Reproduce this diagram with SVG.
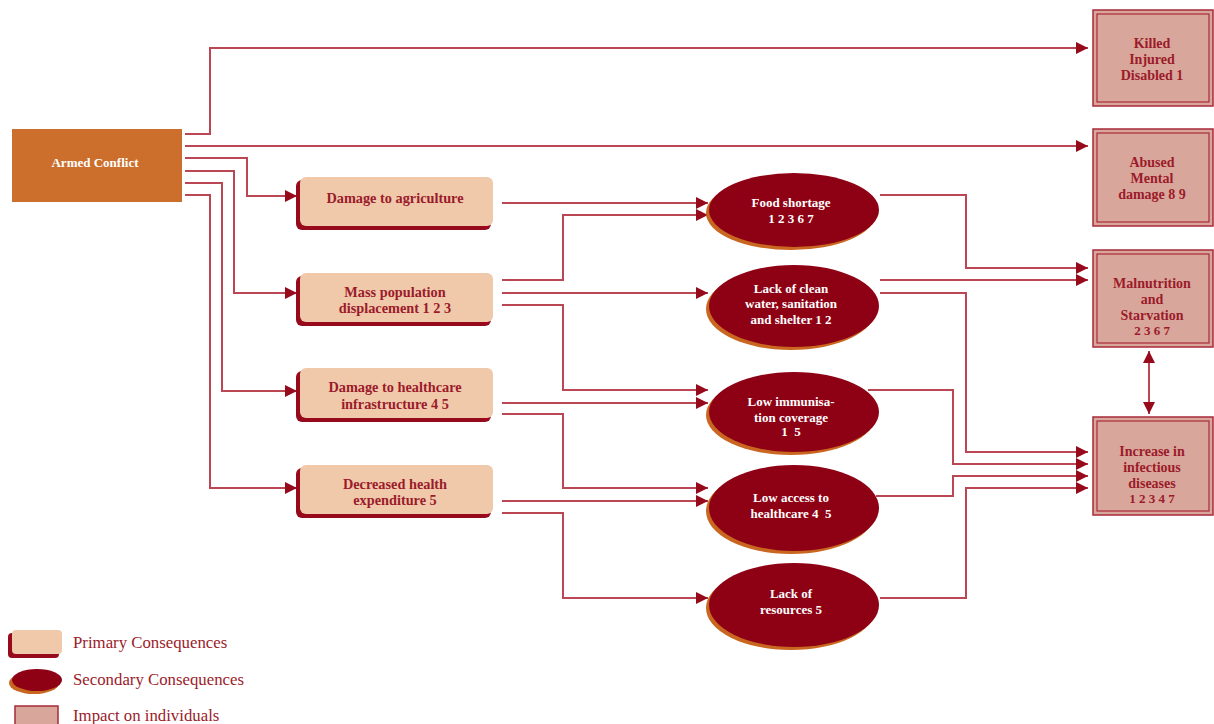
<svg xmlns="http://www.w3.org/2000/svg" width="1214" height="724" viewBox="0 0 1214 724">
<defs>
<marker id="ah" markerUnits="userSpaceOnUse" markerWidth="14" markerHeight="12" refX="12" refY="6" orient="auto">
<path d="M0,0 L12,6 L0,12 Z" fill="#960a1c"/>
</marker>
<marker id="ahs" markerUnits="userSpaceOnUse" markerWidth="14" markerHeight="12" refX="12" refY="6" orient="auto-start-reverse">
<path d="M0,0 L12,6 L0,12 Z" fill="#960a1c"/>
</marker>
<style>
.ln{fill:none;stroke:#bb4654;stroke-width:2}
.t{font-family:"Liberation Serif","Times New Roman",serif;font-weight:bold;font-size:13px;text-anchor:middle}
.p{font-size:14.3px}
.i{font-size:14px}
.dr{fill:#9b1b2a}
.wh{fill:#ffffff}
.pbox{fill:#f0c8aa}
.pshadow{fill:#960a1c}
.ell{fill:#8e0014}
.eshadow{fill:#c9661f}
.imp{fill:#d9a69b;stroke:#a82a3a;stroke-width:1.5}
.impin{fill:none;stroke:#a82a3a;stroke-width:1.2}
.leg{font-family:"Liberation Serif","Times New Roman",serif;font-size:16.8px;fill:#9b1b2a}
</style>
</defs>
<rect width="1214" height="724" fill="#ffffff"/>

<g id="connectors">
<path class="ln" d="M185,134 H210 V48 H1088" marker-end="url(#ah)"/>
<path class="ln" d="M185,146 H1088" marker-end="url(#ah)"/>
<path class="ln" d="M185,158 H247 V196 H297" marker-end="url(#ah)"/>
<path class="ln" d="M185,171 H234 V293 H297" marker-end="url(#ah)"/>
<path class="ln" d="M185,183 H222 V391 H297" marker-end="url(#ah)"/>
<path class="ln" d="M185,195 H210 V488 H297" marker-end="url(#ah)"/>

<path class="ln" d="M502,203 H708" marker-end="url(#ah)"/>
<path class="ln" d="M502,280 H563 V215 H708" marker-end="url(#ah)"/>
<path class="ln" d="M502,293 H708" marker-end="url(#ah)"/>
<path class="ln" d="M502,305 H563 V390 H708" marker-end="url(#ah)"/>
<path class="ln" d="M502,403 H708" marker-end="url(#ah)"/>
<path class="ln" d="M502,414 H563 V488 H708" marker-end="url(#ah)"/>
<path class="ln" d="M502,501 H708" marker-end="url(#ah)"/>
<path class="ln" d="M502,513 H563 V598 H708" marker-end="url(#ah)"/>

<path class="ln" d="M880,195 H966 V268 H1088" marker-end="url(#ah)"/>
<path class="ln" d="M880,280 H1088" marker-end="url(#ah)"/>
<path class="ln" d="M880,293 H966 V452 H1088" marker-end="url(#ah)"/>
<path class="ln" d="M868,390 H953 V464 H1088" marker-end="url(#ah)"/>
<path class="ln" d="M876,496 H953 V476 H1088" marker-end="url(#ah)"/>
<path class="ln" d="M880,598 H966 V488 H1088" marker-end="url(#ah)"/>

<path class="ln" d="M1149,351 V414" marker-start="url(#ahs)" marker-end="url(#ah)"/>
</g>

<g id="armed-conflict">
<rect x="12" y="129" width="170" height="73" fill="#cc6e2c"/>
<text class="t wh" x="95" y="167" font-size="13.6">Armed Conflict</text>
</g>

<g id="damage-agriculture">
<rect class="pshadow" x="296" y="180" width="195" height="50" rx="6"/>
<rect class="pbox" x="300" y="177" width="193" height="49" rx="6"/>
<text class="t p dr" x="395" y="203">Damage to agriculture</text>
</g>
<g id="mass-population">
<rect class="pshadow" x="296" y="276" width="195" height="50" rx="6"/>
<rect class="pbox" x="300" y="273" width="193" height="49" rx="6"/>
<text class="t p dr" x="395" y="297">Mass population</text>
<text class="t p dr" x="395" y="313">displacement 1 2 3</text>
</g>
<g id="damage-healthcare">
<rect class="pshadow" x="296" y="371" width="195" height="51" rx="6"/>
<rect class="pbox" x="300" y="368" width="193" height="50" rx="6"/>
<text class="t p dr" x="395" y="392">Damage to healthcare</text>
<text class="t p dr" x="395" y="409">infrastructure 4 5</text>
</g>
<g id="decreased-health">
<rect class="pshadow" x="296" y="468" width="195" height="50" rx="6"/>
<rect class="pbox" x="300" y="465" width="193" height="49" rx="6"/>
<text class="t p dr" x="395" y="489">Decreased health</text>
<text class="t p dr" x="395" y="505">expenditure 5</text>
</g>

<g id="food-shortage">
<ellipse class="eshadow" cx="791" cy="213" rx="85" ry="37"/>
<ellipse class="ell" cx="794" cy="210" rx="85" ry="37"/>
<text class="t wh" x="791" y="207">Food shortage</text>
<text class="t wh" x="791" y="223">1 2 3 6 7</text>
</g>
<g id="lack-water">
<ellipse class="eshadow" cx="791" cy="309" rx="85" ry="41"/>
<ellipse class="ell" cx="794" cy="306" rx="85" ry="41"/>
<text class="t wh" x="791" y="293">Lack of clean</text>
<text class="t wh" x="791" y="308">water, sanitation</text>
<text class="t wh" x="791" y="324">and shelter 1 2</text>
</g>
<g id="low-immunisation">
<ellipse class="eshadow" cx="791" cy="415" rx="85" ry="40"/>
<ellipse class="ell" cx="794" cy="412" rx="85" ry="40"/>
<text class="t wh" x="791" y="406">Low immunisa-</text>
<text class="t wh" x="791" y="422">tion coverage</text>
<text class="t wh" x="791" y="436" xml:space="preserve">1  5</text>
</g>
<g id="low-access">
<ellipse class="eshadow" cx="791" cy="511" rx="85" ry="43"/>
<ellipse class="ell" cx="794" cy="508" rx="85" ry="43"/>
<text class="t wh" x="791" y="502">Low access to</text>
<text class="t wh" x="791" y="518" xml:space="preserve">healthcare 4  5</text>
</g>
<g id="lack-resources">
<ellipse class="eshadow" cx="791" cy="608" rx="85" ry="42"/>
<ellipse class="ell" cx="794" cy="605" rx="85" ry="42"/>
<text class="t wh" x="791" y="598">Lack of</text>
<text class="t wh" x="791" y="614">resources 5</text>
</g>

<g id="killed">
<rect class="imp" x="1093" y="10" width="120" height="96"/>
<rect class="impin" x="1097" y="14" width="112" height="88"/>
<text class="t i dr" x="1152" y="48">Killed</text>
<text class="t i dr" x="1152" y="64">Injured</text>
<text class="t i dr" x="1152" y="80">Disabled 1</text>
</g>
<g id="abused">
<rect class="imp" x="1093" y="129" width="120" height="97"/>
<rect class="impin" x="1097" y="133" width="112" height="89"/>
<text class="t i dr" x="1152" y="167">Abused</text>
<text class="t i dr" x="1152" y="183">Mental</text>
<text class="t i dr" x="1152" y="199">damage 8 9</text>
</g>
<g id="malnutrition">
<rect class="imp" x="1093" y="250" width="120" height="97"/>
<rect class="impin" x="1097" y="254" width="112" height="89"/>
<text class="t i dr" x="1152" y="288">Malnutrition</text>
<text class="t i dr" x="1152" y="304">and</text>
<text class="t i dr" x="1152" y="320">Starvation</text>
<text class="t dr" x="1152" y="335" font-size="12.5">2 3 6 7</text>
</g>
<g id="infectious">
<rect class="imp" x="1093" y="417" width="120" height="98"/>
<rect class="impin" x="1097" y="421" width="112" height="90"/>
<text class="t i dr" x="1152" y="456">Increase in</text>
<text class="t i dr" x="1152" y="472">infectious</text>
<text class="t i dr" x="1152" y="488">diseases</text>
<text class="t dr" x="1152" y="503" font-size="12.5">1 2 3 4 7</text>
</g>

<g id="legend">
<rect class="pshadow" x="8" y="633" width="51" height="25" rx="4"/>
<rect class="pbox" x="12" y="630" width="50" height="24" rx="4"/>
<text class="leg" x="73" y="648">Primary Consequences</text>
<ellipse class="eshadow" cx="34" cy="683" rx="25" ry="11"/>
<ellipse class="ell" cx="37" cy="680" rx="25" ry="11"/>
<text class="leg" x="73" y="685">Secondary Consequences</text>
<rect x="15" y="706" width="43" height="22" fill="#d9a69b" stroke="#a82a3a" stroke-width="1.5"/>
<text class="leg" x="73" y="721">Impact on individuals</text>
</g>
</svg>
